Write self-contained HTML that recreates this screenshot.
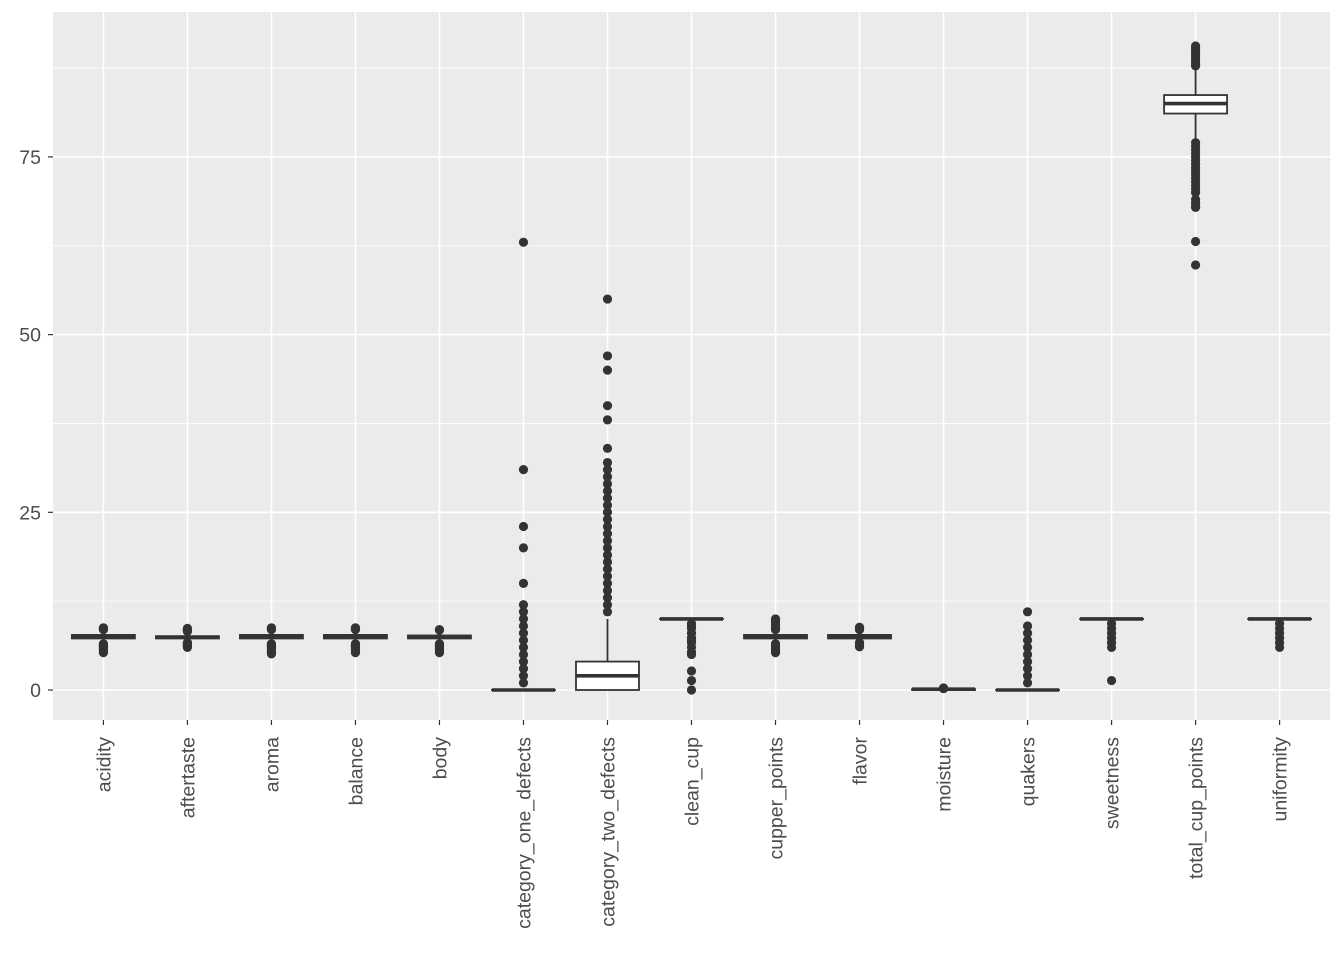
<!DOCTYPE html>
<html><head><meta charset="utf-8"><style>
html,body{margin:0;padding:0;background:#fff;}
svg{display:block;font-family:"Liberation Sans",sans-serif;}
</style></head><body>
<svg id="chart" width="1344" height="960">
<rect x="0" y="0" width="1344" height="960" fill="#fff"/>
<rect x="53" y="12" width="1277" height="708" fill="#ebebeb"/>
<g id="grid"></g><g id="marks"></g><g id="axes"></g>
</svg>
<script>
const categories=["acidity","aftertaste","aroma","balance","body","category_one_defects","category_two_defects","clean_cup","cupper_points","flavor","moisture","quakers","sweetness","total_cup_points","uniformity"];
const lowWhisker=[6.58,6.75,6.58,6.58,6.58,0,0,10,6.58,6.75,0,0,10,77.3,10];
const q1Vals=[7.25,7.25,7.25,7.25,7.25,0,0,10,7.25,7.25,0,0,10,81.1,10];
const medianVals=[7.5,7.42,7.58,7.5,7.5,0,2,10,7.5,7.58,0.11,0,10,82.5,10];
const q3Vals=[7.75,7.58,7.75,7.75,7.67,0,4,10,7.75,7.75,0.12,0,10,83.7,10];
const highWhisker=[8.42,8.17,8.42,8.42,8.33,0,10,10,8.42,8.42,0.18,0,10,87.6,10];
const outliers=[
[5.25,5.5,5.75,6,6.17,6.25,6.33,6.42,6.5,8.5,8.58,8.67,8.75],
[6,6.17,6.25,6.33,6.42,6.5,6.58,6.67,8.25,8.33,8.42,8.5,8.58,8.67],
[5.08,5.25,5.5,5.75,6,6.17,6.25,6.33,6.42,6.5,8.5,8.58,8.67,8.75],
[5.25,5.5,5.75,6,6.17,6.25,6.33,6.42,6.5,8.5,8.58,8.67,8.75],
[5.25,5.5,5.75,6,6.17,6.25,6.33,6.42,6.5,8.42,8.5],
[1,2,3,4,5,6,7,8,9,10,11,12,15,20,23,31,63],
[11,12,13,14,15,16,17,18,19,20,21,22,23,24,25,26,27,28,29,30,31,32,34,38,40,45,47,55],
[9.33,9,8.67,8,7.33,7,6.67,6,5.33,5,2.67,1.33,0],
[5.25,5.5,5.75,6,6.25,6.5,8.5,8.75,9,9.25,9.5,9.75,10],
[6.08,6.17,6.33,6.5,6.67,8.5,8.58,8.67,8.75,8.83],
[0.2,0.22,0.24,0.26,0.28],
[1,2,3,4,5,6,7,8,9,11],
[9.33,8.67,8,7.33,6.67,6,1.33],
[87.8,88,88.3,88.6,89,89.3,89.6,90,90.3,90.6,77,76.5,76,75.5,75,74.5,74,73.5,73,72.5,72,71.5,71,70.5,70,69,68.5,68,67.9,63.1,59.8],
[9.33,8.67,8,7.33,6.67,6]
];
const yTicks=[0,25,50,75];
const yMinor=[12.5,37.5,62.5,87.5];
const NS="http://www.w3.org/2000/svg";
const L=53,R=1330,T=12,B=720;
const step=(R-L)/(categories.length+0.2);
function xPos(i){return L+step*(0.6+i);}
function yPos(v){return 690-v*7.108;}
function mk(tag,attrs,parent){const e=document.createElementNS(NS,tag);for(const k in attrs)e.setAttribute(k,attrs[k]);parent.appendChild(e);return e;}
const grid=document.getElementById('grid'),marks=document.getElementById('marks'),axes=document.getElementById('axes');
yMinor.forEach(v=>{const l=mk('line',{x1:L,x2:R,y1:yPos(v),y2:yPos(v),stroke:'#fff','stroke-width':0.8},grid);

});
yTicks.forEach(v=>{const l=mk('line',{x1:L,x2:R,y1:yPos(v),y2:yPos(v),stroke:'#fff','stroke-width':1.6},grid);


mk('line',{x1:L-5,x2:L,y1:yPos(v),y2:yPos(v),stroke:'#333','stroke-width':1.2},axes);
const t=mk('text',{x:L-12,y:yPos(v)+7,'text-anchor':'end','font-size':19.5,fill:'#4d4d4d'},axes);t.textContent=v;

});
const bw=step*0.75;
categories.forEach((c,i)=>{const x=xPos(i);
const gl=mk('line',{x1:x,x2:x,y1:T,y2:B,stroke:'#fff','stroke-width':1.6},grid);


mk('line',{x1:x,x2:x,y1:B,y2:B+5,stroke:'#333','stroke-width':1.2},axes);
const t=mk('text',{transform:`translate(${x+7},${B+17}) rotate(-90)`,'text-anchor':'end','font-size':19.5,fill:'#4d4d4d'},axes);t.textContent=c;


const g=mk('g',{},marks);


mk('line',{x1:x,x2:x,y1:yPos(highWhisker[i]),y2:yPos(q3Vals[i]),stroke:'#333','stroke-width':1.8},g);
mk('line',{x1:x,x2:x,y1:yPos(q1Vals[i]),y2:yPos(lowWhisker[i]),stroke:'#333','stroke-width':1.8},g);
const top=yPos(q3Vals[i]),bot=yPos(q1Vals[i]);
mk('rect',{x:x-bw/2,y:top,width:bw,height:Math.max(bot-top,0.01),fill:'#fff',stroke:'#333','stroke-width':1.8},g);
mk('line',{x1:x-bw/2,x2:x+bw/2,y1:yPos(medianVals[i]),y2:yPos(medianVals[i]),stroke:'#333','stroke-width':3.6},g);
outliers[i].forEach(v=>{const d=mk('circle',{cx:x,cy:yPos(v),r:4.6,fill:'#333'},g);

});
});
</script>
</body></html>
